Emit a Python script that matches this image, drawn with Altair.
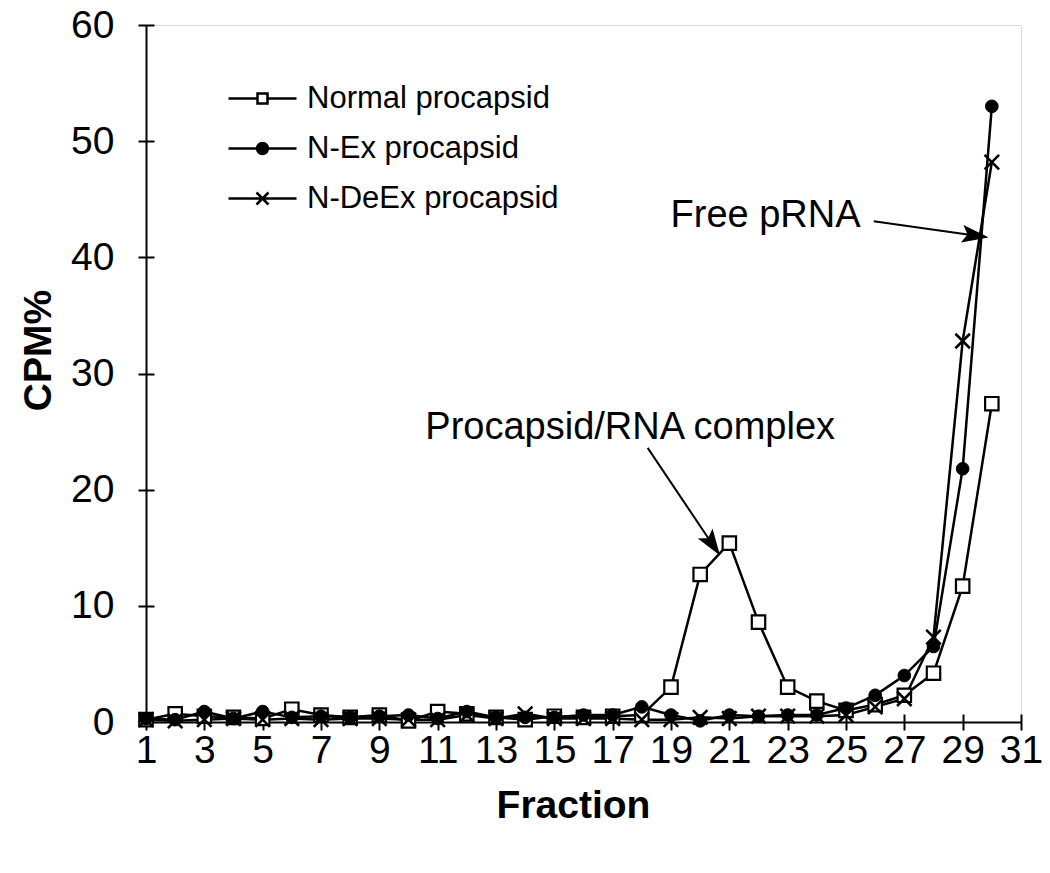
import altair as alt
import pandas as pd

# ---- data ----
fraction = list(range(1, 31))
normal = [0.2, 0.7, 0.5, 0.4, 0.3, 1.1, 0.6, 0.4, 0.6, 0.1, 0.9, 0.7, 0.4, 0.2, 0.5,
          0.4, 0.5, 0.6, 3.0, 12.7, 15.4, 8.6, 3.0, 1.8, 1.0, 1.5, 2.3, 4.2, 11.7, 27.4]
nex = [0.3, 0.2, 0.9, 0.3, 0.9, 0.4, 0.5, 0.4, 0.5, 0.6, 0.3, 0.9, 0.4, 0.4, 0.4,
       0.6, 0.6, 1.3, 0.6, 0.1, 0.6, 0.5, 0.6, 0.6, 1.2, 2.3, 4.0, 6.5, 21.8, 53.0]
ndeex = [0.2, 0.1, 0.2, 0.3, 0.2, 0.3, 0.2, 0.3, 0.3, 0.2, 0.2, 0.6, 0.3, 0.7, 0.3,
         0.3, 0.3, 0.2, 0.2, 0.4, 0.3, 0.5, 0.5, 0.5, 0.6, 1.3, 2.0, 7.3, 32.8, 48.2]
series_names = ["Normal procapsid", "N-Ex procapsid", "N-DeEx procapsid"]
x_ticks = list(range(1, 32, 2))
y_ticks = list(range(0, 61, 10))

# annotations (data units)
ann_text = ["Procapsid/RNA complex", "Free pRNA"]
ann_x = [17.6, 25.5]
ann_y = [25.3, 43.6]
arrow_x = [18.2, 25.95]
arrow_y = [23.6, 43.1]
arrow_x2 = [20.62, 29.78]
arrow_y2 = [14.55, 41.75]
arrow_angle = [146.2, 98.1]

FONT = "Liberation Sans"

rows = []
for name, vals in zip(series_names, [normal, nex, ndeex]):
    for f, v in zip(fraction, vals):
        rows.append({"fraction": f, "value": v, "series": name})
df = pd.DataFrame(rows)

ann_df = pd.DataFrame({"text": ann_text, "x": ann_x, "y": ann_y})
arr_df = pd.DataFrame({"x": arrow_x, "y": arrow_y, "x2": arrow_x2, "y2": arrow_y2,
                       "angle": arrow_angle})

xs = alt.Scale(domain=[1, 31], nice=False, zero=False)
ys = alt.Scale(domain=[0, 60], nice=False)

x_axis = alt.Axis(values=x_ticks, title="Fraction", grid=False, tickSize=8, tickWidth=2,
                  domainWidth=2, domainColor="black", tickColor="black",
                  labelFontSize=39, labelFont=FONT, labelColor="black", labelPadding=1,
                  titleFontSize=39, titleFont=FONT, titleFontWeight="bold",
                  titleColor="black", titlePadding=16, titleX=427, labelFlush=False)
y_axis = alt.Axis(values=y_ticks, title="CPM%", grid=False, tickSize=8, tickWidth=2,
                  domainWidth=2, domainColor="black", tickColor="black",
                  labelFontSize=39, labelFont=FONT, labelColor="black", labelPadding=24,
                  titleFontSize=39, titleFont=FONT, titleFontWeight="bold",
                  titleColor="black", titlePadding=12, titleY=325, labelFlush=False)

X = alt.X("fraction:Q", scale=xs, axis=x_axis)
Y = alt.Y("value:Q", scale=ys, axis=y_axis)

lines = alt.Chart(df).mark_line(color="black", strokeWidth=2.5).encode(
    x=X, y=Y, detail="series:N")

sq = alt.Chart(df).transform_filter(alt.datum.series == series_names[0]).mark_point(
    shape="square", filled=True, fill="white", stroke="black", strokeWidth=2.2,
    size=180, opacity=1).encode(x="fraction:Q", y="value:Q")
ci = alt.Chart(df).transform_filter(alt.datum.series == series_names[1]).mark_point(
    shape="circle", filled=True, fill="black", stroke="black", strokeWidth=1,
    size=160, opacity=1).encode(x="fraction:Q", y="value:Q")
cr = alt.Chart(df).transform_filter(alt.datum.series == series_names[2]).mark_point(
    shape="M-1,-1L1,1M-1,1L1,-1", filled=False, stroke="black", strokeWidth=2.6,
    size=210, opacity=1).encode(x="fraction:Q", y="value:Q")

ring = lambda r: f"M-{r},0A{r},{r},0,1,1,{r},0A{r},{r},0,1,1,-{r},0Z"
legend_paths = [
    "M-1.36,0L-0.2,0M0.2,0L1.36,0M-0.2,-0.2L0.2,-0.2L0.2,0.2L-0.2,0.2Z",
    "M-1.36,0L1.36,0" + ring(0.22) + ring(0.15) + ring(0.08) + ring(0.02),
    "M-1.36,0L1.36,0M-0.24,-0.24L0.24,0.24M-0.24,0.24L0.24,-0.24",
]
leg = alt.Legend(title=None, orient="none", legendX=90, legendY=47, padding=0,
                 rowPadding=8, symbolSize=2500, symbolStrokeWidth=2.5,
                 symbolStrokeColor="black", symbolFillColor="transparent",
                 labelFontSize=31, labelFont=FONT,
                 labelColor="black", labelOffset=18, labelLimit=0)
legend_layer = alt.Chart(df).transform_filter("false").mark_point(
    filled=False, stroke="black", strokeWidth=2.5, opacity=1).encode(
    shape=alt.Shape("series:N", scale=alt.Scale(domain=series_names, range=legend_paths),
                    legend=leg),
)

text1 = alt.Chart(ann_df.iloc[[0]]).mark_text(
    font=FONT, fontSize=38, color="black", baseline="middle", align="center").encode(
    x="x:Q", y="y:Q", text="text:N")
text2 = alt.Chart(ann_df.iloc[[1]]).mark_text(
    font=FONT, fontSize=38, color="black", baseline="middle", align="right").encode(
    x="x:Q", y="y:Q", text="text:N")
rules = alt.Chart(arr_df).mark_rule(color="black", strokeWidth=2).encode(
    x="x:Q", y="y:Q", x2="x2:Q", y2="y2:Q")
heads = alt.Chart(arr_df).mark_point(
    shape="M0,0L-0.5,1.5L0,1.2L0.5,1.5Z", filled=True, fill="black", stroke="black",
    size=800, opacity=1).encode(
    x="x2:Q", y="y2:Q", angle=alt.Angle("angle:Q", scale=None))

main = alt.layer(lines, sq, ci, cr, rules, heads, text1, text2, legend_layer)

# inner half of the crossing tick marks
inner = alt.Chart(df).transform_filter("false").mark_point().encode(
    x=alt.X("fraction:Q", scale=alt.Scale(domain=[1, 31], nice=False, zero=False),
            axis=alt.Axis(values=x_ticks, orient="bottom", offset=-8, domain=False,
                          labels=False, title=None, grid=False, tickSize=8,
                          tickWidth=2, tickColor="black")),
    y=alt.Y("value:Q", scale=alt.Scale(domain=[0, 60], nice=False),
            axis=alt.Axis(values=y_ticks, orient="left", offset=-8, domain=False,
                          labels=False, title=None, grid=False, tickSize=8,
                          tickWidth=2, tickColor="black")),
)

chart = alt.layer(main, inner).resolve_scale(x="independent", y="independent").properties(
    width=875, height=697,
    autosize=alt.AutoSizeParams(type="none"),
    padding={"left": 138, "top": 17, "right": 21, "bottom": 143},
).configure_view(stroke=None).configure(background="white")

chart.save("out.html", embed_options={"renderer": "svg", "actions": False})
